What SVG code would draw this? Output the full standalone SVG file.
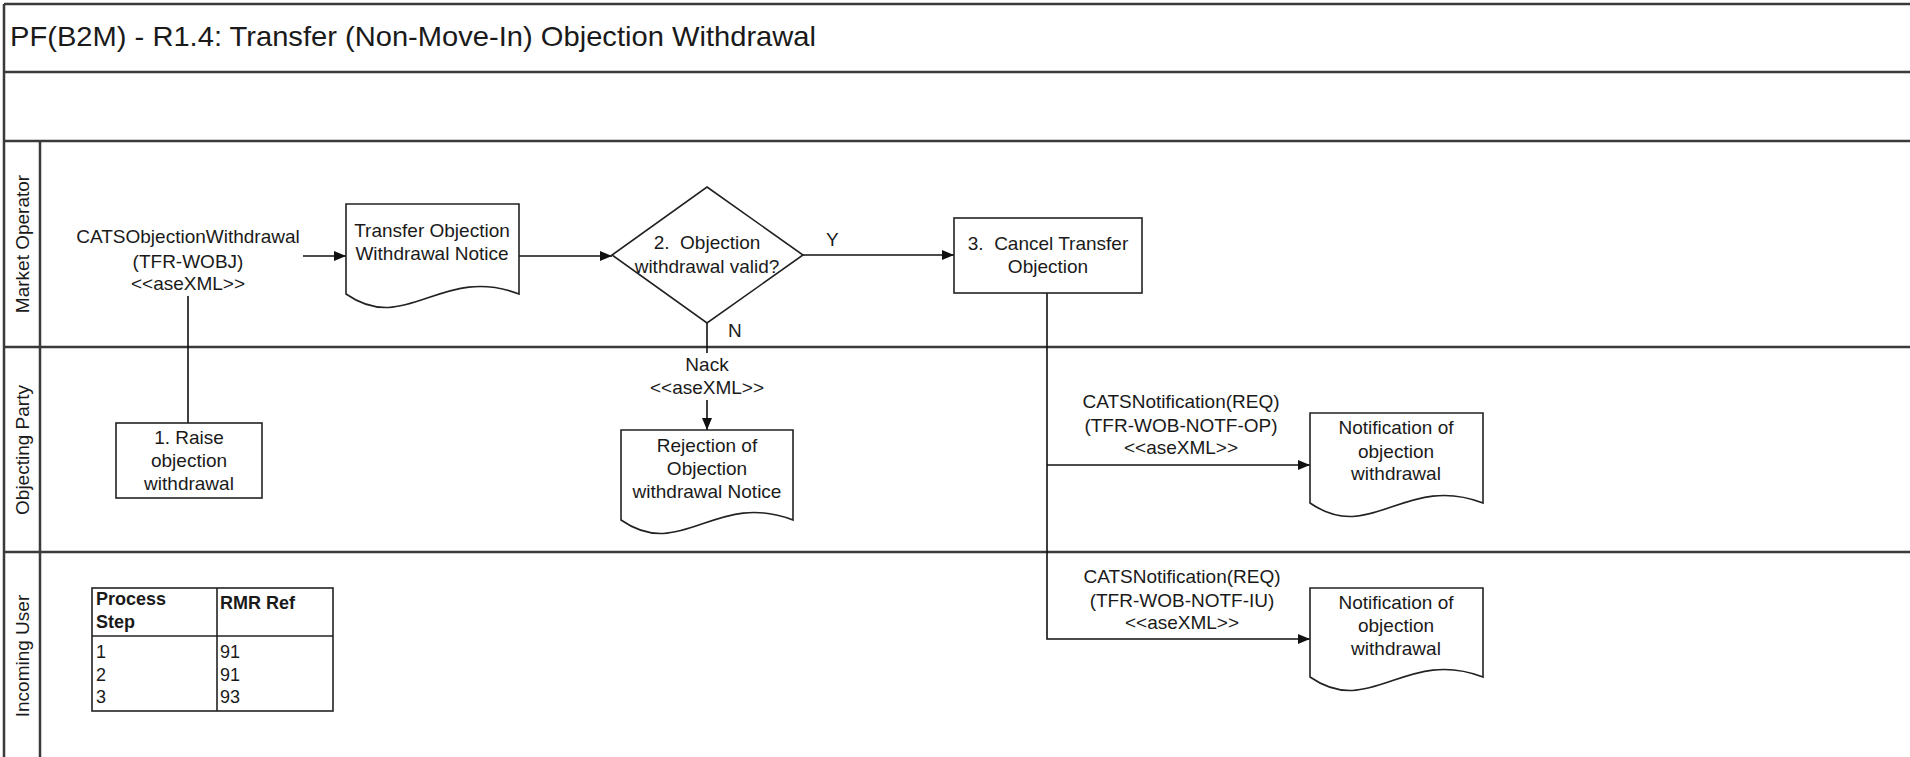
<svg xmlns="http://www.w3.org/2000/svg" width="1910" height="757" viewBox="0 0 1910 757">
<style>
  .lane { stroke: #3a3a3a; stroke-width: 2.5; fill: none; }
  .shape { stroke: #222; stroke-width: 1.6; fill: #fff; }
  .conn { stroke: #111; stroke-width: 1.6; fill: none; }
  .arrow { marker-end: url(#ah); }
  text { font-family: "Liberation Sans", Arial, sans-serif; font-size: 19px; fill: #1a1a1a; }
  .c { text-anchor: middle; }
  .title { font-size: 28px; }
  .th { font-weight: bold; font-size: 18px; }
  .td { font-size: 18px; }
</style>
<defs>
  <marker id="ah" viewBox="0 0 12 10" refX="12" refY="5" markerWidth="12" markerHeight="10" markerUnits="userSpaceOnUse" orient="auto">
    <path d="M0,0 L12,5 L0,10 Z" fill="#111"/>
  </marker>
</defs>
<rect x="0" y="0" width="1910" height="757" fill="#fff"/>

<g id="frame">
  <line class="lane" x1="4" y1="4" x2="1910" y2="4"/>
  <line class="lane" x1="4" y1="4" x2="4" y2="757"/>
  <line class="lane" x1="4" y1="72" x2="1910" y2="72"/>
  <line class="lane" x1="4" y1="141" x2="1910" y2="141"/>
  <line class="lane" x1="4" y1="347" x2="1910" y2="347"/>
  <line class="lane" x1="4" y1="552" x2="1910" y2="552"/>
  <line class="lane" x1="40" y1="141" x2="40" y2="757"/>
  <text class="title" x="10" y="46" textLength="806" lengthAdjust="spacingAndGlyphs">PF(B2M) - R1.4: Transfer (Non-Move-In) Objection Withdrawal</text>
</g>

<g id="lane-market-operator">
  <text class="c" transform="translate(29,244) rotate(-90)">Market Operator</text>
</g>
<g id="lane-objecting-party">
  <text class="c" transform="translate(29,450) rotate(-90)">Objecting Party</text>
</g>
<g id="lane-incoming-user">
  <text class="c" transform="translate(29,656) rotate(-90)">Incoming User</text>
</g>

<g id="connectors">
  <line class="conn" x1="188" y1="296" x2="188" y2="423"/>
  <line class="conn arrow" x1="303" y1="256" x2="346" y2="256"/>
  <line class="conn arrow" x1="519" y1="256" x2="612" y2="256"/>
  <line class="conn arrow" x1="803" y1="255" x2="954" y2="255"/>
  <text x="826" y="246">Y</text>
  <line class="conn" x1="707" y1="323" x2="707" y2="353"/>
  <text x="728" y="337">N</text>
  <text class="c" x="707" y="371">Nack</text>
  <text class="c" x="707" y="394">&lt;&lt;aseXML&gt;&gt;</text>
  <line class="conn arrow" x1="707" y1="400" x2="707" y2="430"/>
  <polyline class="conn arrow" points="1047,293 1047,639 1310,639"/>
  <line class="conn arrow" x1="1047" y1="465" x2="1310" y2="465"/>
  <text class="c" x="188" y="243">CATSObjectionWithdrawal</text>
  <text class="c" x="188" y="268">(TFR-WOBJ)</text>
  <text class="c" x="188" y="290">&lt;&lt;aseXML&gt;&gt;</text>
  <text class="c" x="1181" y="408">CATSNotification(REQ)</text>
  <text class="c" x="1181" y="432">(TFR-WOB-NOTF-OP)</text>
  <text class="c" x="1181" y="454">&lt;&lt;aseXML&gt;&gt;</text>
  <text class="c" x="1182" y="583">CATSNotification(REQ)</text>
  <text class="c" x="1182" y="607">(TFR-WOB-NOTF-IU)</text>
  <text class="c" x="1182" y="629">&lt;&lt;aseXML&gt;&gt;</text>
</g>

<g id="doc-transfer-objection-withdrawal-notice">
  <path class="shape" d="M346,204 H519 V294 C441.2,264 406.5,336 346,294 Z"/>
  <text class="c" x="432" y="237">Transfer Objection</text>
  <text class="c" x="432" y="260">Withdrawal Notice</text>
</g>

<g id="decision-2">
  <polygon class="shape" points="707,187 803,255 707,323 612,255"/>
  <text class="c" x="707" y="249">2.&#160; Objection</text>
  <text class="c" x="707" y="273">withdrawal valid?</text>
</g>

<g id="step-3">
  <rect class="shape" x="954" y="218" width="188" height="75"/>
  <text class="c" x="1048" y="250">3.&#160; Cancel Transfer</text>
  <text class="c" x="1048" y="273">Objection</text>
</g>

<g id="step-1">
  <rect class="shape" x="116" y="423" width="146" height="75"/>
  <text class="c" x="189" y="444">1. Raise</text>
  <text class="c" x="189" y="467">objection</text>
  <text class="c" x="189" y="490">withdrawal</text>
</g>

<g id="doc-rejection">
  <path class="shape" d="M621,430 H793 V520 C715.6,490 681.2,562 621,520 Z"/>
  <text class="c" x="707" y="452">Rejection of</text>
  <text class="c" x="707" y="475">Objection</text>
  <text class="c" x="707" y="498">withdrawal Notice</text>
</g>

<g id="doc-notification-op">
  <path class="shape" d="M1310,413 H1483 V503 C1405.2,473 1370.5,545 1310,503 Z"/>
  <text class="c" x="1396" y="434">Notification of</text>
  <text class="c" x="1396" y="458">objection</text>
  <text class="c" x="1396" y="480">withdrawal</text>
</g>

<g id="doc-notification-iu">
  <path class="shape" d="M1310,588 H1483 V677 C1405.2,647 1370.5,719 1310,677 Z"/>
  <text class="c" x="1396" y="609">Notification of</text>
  <text class="c" x="1396" y="632">objection</text>
  <text class="c" x="1396" y="655">withdrawal</text>
</g>

<g id="table-rmr">
  <rect class="shape" x="92" y="588" width="241" height="123"/>
  <line class="shape" x1="217" y1="588" x2="217" y2="711"/>
  <line class="shape" x1="92" y1="636" x2="333" y2="636" stroke-width="2.2"/>
  <text class="th" x="96" y="605">Process</text>
  <text class="th" x="96" y="628">Step</text>
  <text class="th" x="220" y="609">RMR Ref</text>
  <text class="td" x="96" y="658">1</text>
  <text class="td" x="220" y="658">91</text>
  <text class="td" x="96" y="681">2</text>
  <text class="td" x="220" y="681">91</text>
  <text class="td" x="96" y="703">3</text>
  <text class="td" x="220" y="703">93</text>
</g>
</svg>
